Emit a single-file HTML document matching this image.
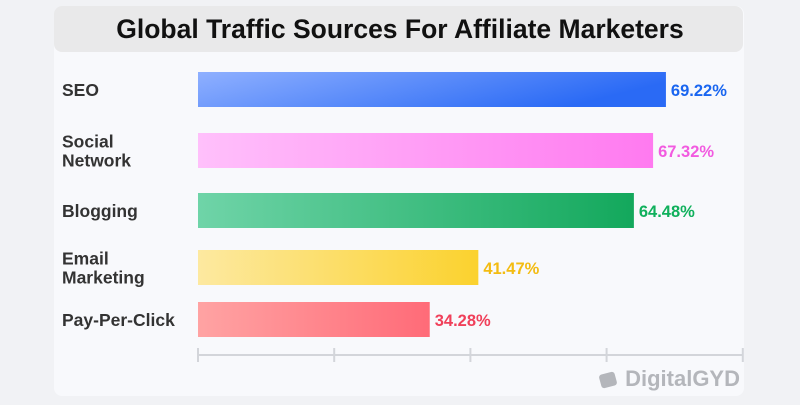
<!DOCTYPE html>
<html><head><meta charset="utf-8"><style>
body{margin:0;width:800px;height:400px;background:#f1f2f5;font-family:"Liberation Sans",sans-serif;overflow:hidden}
</style></head><body>
<svg width="800" height="400">
<defs>
<linearGradient id="g0" x1="0" x2="1" y1="0" y2="0.3"><stop offset="0" stop-color="#8fb0ff"/><stop offset="1" stop-color="#2a6af5"/></linearGradient>
<linearGradient id="g1" x1="0" x2="1"><stop offset="0" stop-color="#ffc0fb"/><stop offset="1" stop-color="#ff7af0"/></linearGradient>
<linearGradient id="g2" x1="0" x2="1"><stop offset="0" stop-color="#6fd4a8"/><stop offset="1" stop-color="#13a85c"/></linearGradient>
<linearGradient id="g3" x1="0" x2="1"><stop offset="0" stop-color="#fde9a0"/><stop offset="1" stop-color="#fbd22e"/></linearGradient>
<linearGradient id="g4" x1="0" x2="1"><stop offset="0" stop-color="#ffa3a3"/><stop offset="1" stop-color="#ff6b78"/></linearGradient>
</defs>
<rect x="54" y="6" width="690" height="390" rx="8" fill="#f8f9fc"/>
<rect x="54" y="6" width="689" height="46" rx="8" fill="#e9e9ea"/>
<text x="400" y="38" text-anchor="middle" font-size="26.5" font-weight="bold" fill="#111">Global Traffic Sources For Affiliate Marketers</text>
<g id="bars"></g>
<g id="axis"></g>
<text x="740" y="386" text-anchor="end" font-size="22" font-weight="bold" fill="#b4b6bb">DigitalGYD</text>
<rect x="600" y="373" width="16" height="14" rx="3" fill="#b4b6bb" transform="rotate(-15 608 380)"/>
</svg>
<script>
const categories=[["SEO"],["Social","Network"],["Blogging"],["Email","Marketing"],["Pay-Per-Click"]];
const values=[69.22,67.32,64.48,41.47,34.28];
const labels=["69.22%","67.32%","64.48%","41.47%","34.28%"];
const ticks=[0,20,40,60,80];
const colors=["#1a66f0","#f25be0","#10b05c","#f3bc12","#f0405a"];
const centers=[90,151,211,268,320];
const NS="http://www.w3.org/2000/svg";
const x0=198,k=6.76;
const xs=v=>x0+v*k;
const bg=document.getElementById('bars'),ag=document.getElementById('axis');
function mk(tag,at,p){const e=document.createElementNS(NS,tag);for(const a in at)e.setAttribute(a,at[a]);p.appendChild(e);return e;}
values.forEach((v,i)=>{
 const c=centers[i];
 const r=mk('rect',{x:x0,y:c-18,width:xs(v)-x0,height:35,fill:`url(#g${i})`},bg);
 
 
 const t=mk('text',{x:xs(v)+5,y:c+6,'font-size':16.5,'font-weight':'bold',fill:colors[i]},bg);
 t.textContent=labels[i];
 
 
 const lines=categories[i];
 const l=mk('text',{x:62,'font-size':17.5,'font-weight':'bold',fill:'#333'},bg);
 
 
 lines.forEach((s,j)=>{const ts=mk('tspan',{x:62,y:c+6+(j-(lines.length-1)/2)*19},l);ts.textContent=s;});
});
const ax=mk('line',{x1:xs(0),x2:xs(80)+4,y1:355,y2:355,stroke:'#d3d5da','stroke-width':2},ag);


ticks.forEach(t=>{
 const tl=mk('line',{x1:xs(t)+t/20,x2:xs(t)+t/20,y1:348,y2:362,stroke:'#d3d5da','stroke-width':2},ag);
 
 
});
</script>
</body></html>
